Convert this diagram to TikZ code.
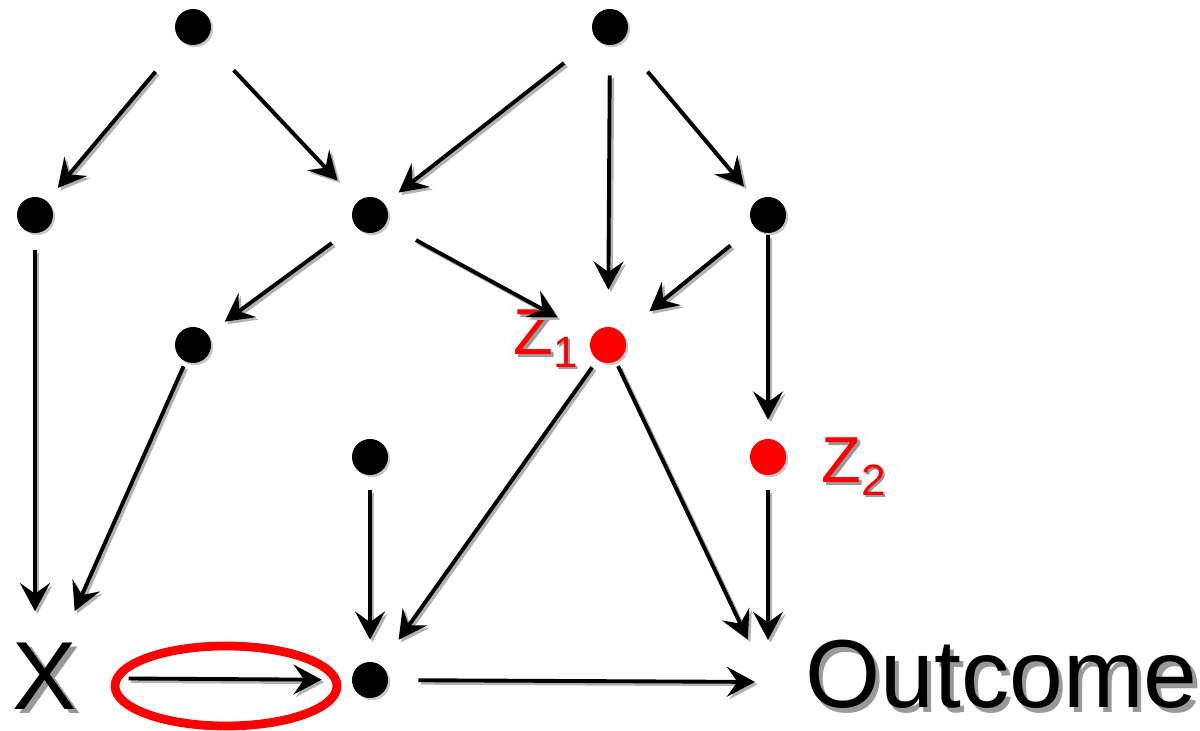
\documentclass[tikz,border=0pt]{standalone}
\usepackage{fontspec}
\setmainfont{Liberation Sans}
\usepackage{tikz}
\usetikzlibrary{arrows.meta}
\usetikzlibrary{shadows}

\newcommand{\shadowed}[1]{\makebox[0pt][l]{\hspace{0.045em}\raisebox{-0.045em}{\color{black!40}#1}}#1}

\tikzset{
  dot/.style={circle, fill=black, inner sep=0pt, minimum size=0.72cm,
    drop shadow={shadow xshift=1.2pt, shadow yshift=-1.2pt, opacity=0.45}},
  reddot/.style={dot, fill=red},
  link/.style={line width=2.2pt, -{Stealth[length=16pt,width=17pt,inset=6pt]}},
  bigtext/.style={inner sep=0pt, font=\fontsize{55}{60}\selectfont},
  zlabel/.style={inner sep=0pt, anchor=base west, text=red, font=\fontsize{37}{40}\selectfont},
}

% all connectors, drawn twice (shadow, then line)
\newcommand{\drawlinks}{%
    \draw[link, shorten <=0.8cm, shorten >=0.34cm] (t1) -- (l1);
    \draw[link, shorten <=0.82cm, shorten >=0.58cm] (t1) -- (m1);
    \draw[link, shorten <=0.8cm, shorten >=0.36cm] (t2) -- (m1);
    \draw[link, shorten <=0.6cm, shorten >=0.74cm] (t2) -- (z1);
    \draw[link, shorten <=0.8cm, shorten >=0.38cm] (t2) -- (r1);
    \draw[link, shorten <=0.68cm, shorten >=0.78cm] (m1) -- (z1);
    \draw[link, shorten <=0.58cm, shorten >=0.42cm] (m1) -- (a);
    \draw[link, shorten <=0.6cm, shorten >=0.7cm] (r1) -- (z1);
    \draw[link, shorten <=0.04cm, shorten >=0.38cm] (r1) -- (z2);
    \draw[link, shorten <=0.34cm, shorten >=0.62cm] (l1) -- (l1 |- x.north);
    \draw[link, shorten <=0.1cm, shorten >=0.68cm] (a) -- (x);
    \draw[link, shorten <=0.3cm, shorten >=0.44cm] (b) -- (c);
    \draw[link, shorten <=0.18cm, shorten >=0.62cm] (z1) -- (c);
    \draw[link, shorten <=0.1cm, shorten >=0.94cm] (z1) -- (oc);
    \draw[link, shorten <=0.3cm, shorten >=0.84cm] (z2) -- (oc);
    \draw[link, shorten <=1.02cm, shorten >=0.6cm] (x) -- (c);
    \draw[link, shorten <=0.6cm, shorten >=0.26cm] (c) -- (oc);
}

\begin{document}
\begin{tikzpicture}
    \useasboundingbox (0,0) rectangle (24,14.62);

    % dots
    \node[dot] (t1) at (3.86,14.08) {};
    \node[dot] (t2) at (12.2,14.08) {};
    \node[dot] (l1) at (0.7,10.32) {};
    \node[dot] (m1) at (7.4,10.32) {};
    \node[dot] (r1) at (15.36,10.32) {};
    \node[dot] (a) at (3.86,7.72) {};
    \node[reddot] (z1) at (12.16,7.72) {};
    \node[dot] (b) at (7.4,5.48) {};
    \node[reddot] (z2) at (15.36,5.48) {};
    \node[dot] (c) at (7.4,1.02) {};

    % labels
    \node[bigtext] (x) at (0.9,1.06) {\shadowed{X}};
    \node[bigtext, anchor=base west] (out) at (16.1,0.46) {\shadowed{Outcome}};
    \coordinate (oc) at (15.36,0.98);
    \node[zlabel] (z1lab) at (10.26,7.52) {\shadowed{Z}\raisebox{-0.2em}{\fontsize{25}{28}\selectfont\shadowed{1}}};
    \node[zlabel] (z2lab) at (16.42,4.96) {\shadowed{Z}\raisebox{-0.2em}{\fontsize{25}{28}\selectfont\shadowed{2}}};

    % highlight
    \draw[red, line width=5pt] (4.52,0.9) ellipse (2.22 and 0.8);

    % edges
    \begin{scope}[transform canvas={shift={(0.05,-0.05)}}, link/.append style={draw=black!30}]
        \drawlinks
    \end{scope}
    \drawlinks
\end{tikzpicture}
\end{document}
